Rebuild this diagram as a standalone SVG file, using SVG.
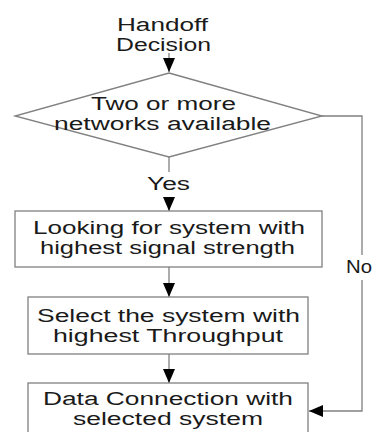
<svg xmlns="http://www.w3.org/2000/svg" width="377" height="432" viewBox="0 0 377 432">
<style>
text{font-family:"Liberation Sans",Arial,sans-serif;font-size:18px;fill:#1a1a1a;text-anchor:middle}
.shape{fill:#fff;stroke:#808080;stroke-width:1.3}
.line{fill:none;stroke:#808080;stroke-width:1.3}
</style>
<defs>
<marker id="arr" viewBox="0 0 14 12" refX="14" refY="6" markerWidth="14" markerHeight="12" markerUnits="userSpaceOnUse" orient="auto">
<path d="M0,0 L14,6 L0,12 Z" fill="#000"/>
</marker>
</defs>
<rect width="377" height="432" fill="#fff"/>
<g id="connectors">
<path class="line" d="M169,53 V72" marker-end="url(#arr)"/>
<path class="line" d="M169,157 V172"/>
<path class="line" d="M169,197 V211" marker-end="url(#arr)"/>
<path class="line" d="M169,267 V297" marker-end="url(#arr)"/>
<path class="line" d="M169,354 V383" marker-end="url(#arr)"/>
<path class="line" d="M322,116 H362 V255"/>
<path class="line" d="M362,280 V411 H309" marker-end="url(#arr)"/>
</g>
<g id="start">
<text x="162.5" y="31" textLength="91" lengthAdjust="spacingAndGlyphs">Handoff</text>
<text x="163.5" y="51" textLength="95" lengthAdjust="spacingAndGlyphs">Decision</text>
</g>
<g id="decision">
<polygon class="shape" points="169,73 322,116 169,157 15,116"/>
<text x="163.5" y="110" textLength="145" lengthAdjust="spacingAndGlyphs">Two or more</text>
<text x="162.5" y="130" textLength="217" lengthAdjust="spacingAndGlyphs">networks available</text>
</g>
<g id="label-yes">
<text x="168.5" y="190" textLength="43" lengthAdjust="spacingAndGlyphs">Yes</text>
</g>
<g id="label-no">
<text x="359" y="273" textLength="26" lengthAdjust="spacingAndGlyphs">No</text>
</g>
<g id="box-signal">
<rect class="shape" x="15" y="211" width="307" height="56"/>
<text x="169" y="234" textLength="272" lengthAdjust="spacingAndGlyphs">Looking for system with</text>
<text x="167.5" y="254" textLength="255" lengthAdjust="spacingAndGlyphs">highest signal strength</text>
</g>
<g id="box-throughput">
<rect class="shape" x="28" y="297" width="280" height="57"/>
<text x="168.5" y="322" textLength="263" lengthAdjust="spacingAndGlyphs">Select the system with</text>
<text x="168" y="342" textLength="230" lengthAdjust="spacingAndGlyphs">highest Throughput</text>
</g>
<g id="box-connection">
<rect class="shape" x="28" y="383" width="280" height="60"/>
<text x="168" y="405" textLength="250" lengthAdjust="spacingAndGlyphs">Data Connection with</text>
<text x="168" y="425" textLength="190" lengthAdjust="spacingAndGlyphs">selected system</text>
</g>
</svg>
